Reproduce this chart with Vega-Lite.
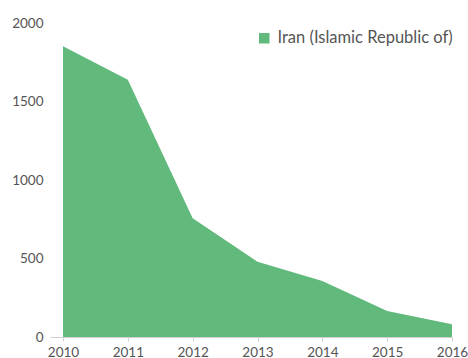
{
  "$schema": "https://vega.github.io/schema/vega-lite/v6.json",
  "width": 389,
  "height": 314,
  "autosize": {"type": "none"},
  "padding": {"left": 63, "top": 23, "right": 16, "bottom": 21},
  "config": {
    "view": {"stroke": null},
    "font": "Lato"
  },
  "data": {
    "values": [
      {"year": 2010, "value": 1852, "country": "Iran (Islamic Republic of)"},
      {"year": 2011, "value": 1639, "country": "Iran (Islamic Republic of)"},
      {"year": 2012, "value": 757, "country": "Iran (Islamic Republic of)"},
      {"year": 2013, "value": 480, "country": "Iran (Islamic Republic of)"},
      {"year": 2014, "value": 357, "country": "Iran (Islamic Republic of)"},
      {"year": 2015, "value": 166, "country": "Iran (Islamic Republic of)"},
      {"year": 2016, "value": 81, "country": "Iran (Islamic Republic of)"}
    ]
  },
  "mark": {"type": "area", "opacity": 1},
  "encoding": {
    "x": {
      "field": "year",
      "type": "quantitative",
      "scale": {"domain": [2010, 2016], "nice": false, "zero": false},
      "axis": {
        "title": null,
        "values": [2010, 2011, 2012, 2013, 2014, 2015, 2016],
        "format": "d",
        "grid": false,
        "domainColor": "#d0d0d0",
        "tickColor": "#d0d0d0",
        "tickSize": 4,
        "labelPadding": 4,
        "labelFontSize": 13.5,
        "labelColor": "#555555",
        "labelFlush": false
      }
    },
    "y": {
      "field": "value",
      "type": "quantitative",
      "scale": {"domain": [0, 2000], "nice": false},
      "axis": {
        "title": null,
        "values": [0, 500, 1000, 1500, 2000],
        "format": "d",
        "grid": false,
        "domain": false,
        "tickSize": 13,
        "tickColor": {"condition": {"test": "datum.value == 0", "value": "#d0d0d0"}, "value": "transparent"},
        "labelPadding": 7,
        "labelFontSize": 13.5,
        "labelColor": "#555555"
      }
    },
    "color": {
      "field": "country",
      "type": "nominal",
      "scale": {"range": ["#61b97c"]},
      "legend": {
        "title": null,
        "orient": "none",
        "legendX": 193,
        "legendY": 7,
        "symbolType": "square",
        "symbolSize": 110,
        "labelFontSize": 16.5,
        "labelColor": "#555555",
        "labelOffset": 5,
        "labelLimit": 300
      }
    }
  }
}
